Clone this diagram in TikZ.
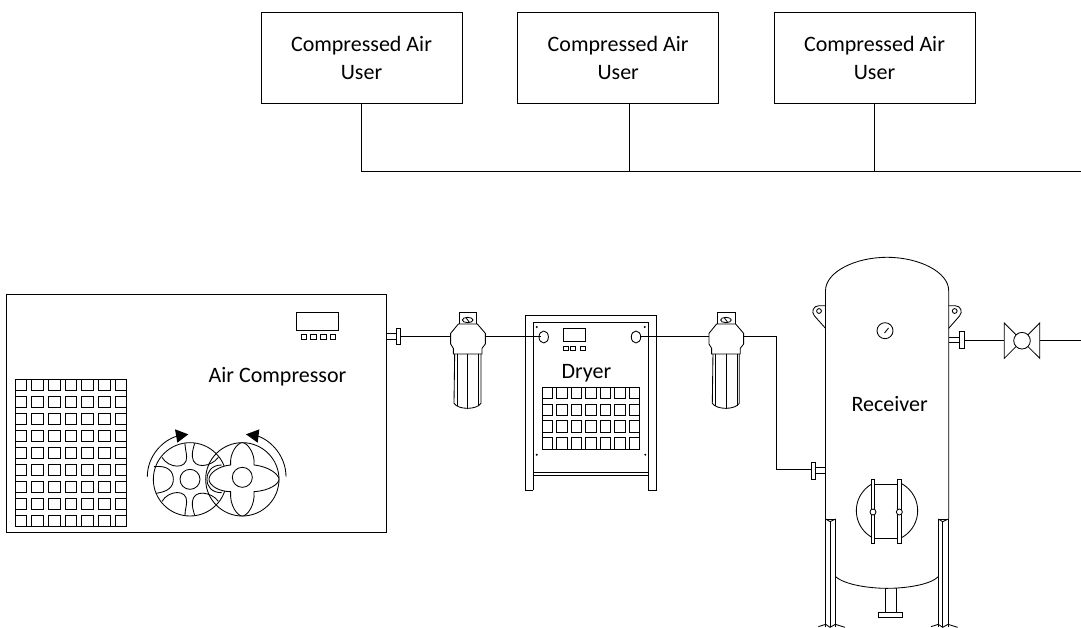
\documentclass[tikz,border=0pt]{standalone}
\usepackage{fontspec}
\setmainfont{Carlito}
\tikzset{
  ln/.style={line width=0.85pt,black},
  lbl/.style={inner sep=0pt,font=\fontsize{22}{28}\selectfont,align=center},
  userbox/.style={ln,draw,fill=white,minimum width=201pt,minimum height=90.5pt,inner sep=0pt,font=\fontsize{22}{28}\selectfont,align=center},
  zoomed/.style={x=0.33333pt,y=-0.33333pt}
}
\newcommand{\cellgrid}[8]{% x0,y0,cols,rows,pitchx,pitchy,w,h
  \draw[ln] (#1,#2) rectangle ({#1+(#3-1)*#5+#7},{#2+(#4-1)*#6+#8});
  \foreach \i in {1,...,#3}{\foreach \j in {1,...,#4}{
    \draw[ln] ({#1+(\i-1)*#5},{#2+(\j-1)*#6}) rectangle ++(#7,#8);}}
}
\newcommand{\filterunit}[2]{%
 \begin{scope}[zoomed,xshift=#1pt,yshift=-#2pt]
  \draw[ln,fill=white] (237,36) rectangle (290,72);
  \draw[ln] (263,60) ellipse (16 and 8);
  \draw[ln] (258,53) -- (268,67);
  \draw[ln,fill=white] (235,72) -- (292,72) -- (316,100) -- (316,132) -- (306,145) -- (306,162) -- (220,162) -- (220,145) -- (212,132) -- (212,100) -- cycle;
  \draw[ln] (224,162) -- (222,310) .. controls (235,330) and (290,330) .. (303,310) -- (303,162);
  \draw[ln] (231,162) -- (231,318) (263,162) -- (263,326) (296,162) -- (296,318);
 \end{scope}}
\begin{document}
\begin{tikzpicture}[x=1pt,y=-1pt]
\useasboundingbox (0,0) rectangle (1081,628);
% users
\node[userbox] (u1) at (361.5,58) {Compressed Air\\User};
\node[userbox] (u2) at (618.2,58) {Compressed Air\\User};
\node[userbox] (u3) at (874.5,58) {Compressed Air\\User};
\coordinate (b1) at (361.7,171.7);
\coordinate (b2) at (629.3,171.7);
\coordinate (b3) at (874.7,171.7);
\coordinate (bend) at (1081,171.7);
\draw[ln] (b1 |- u1.south) -- (b1) -- (bend);
\draw[ln] (b2 |- u2.south) -- (b2);
\draw[ln] (b3 |- u3.south) -- (b3);

% compressor
\draw[ln] (6.7,294) rectangle (386.7,532.5);
\node[lbl,anchor=base] (aclabel) at (277.5,382.5) {Air Compressor};
\draw[ln] (296.7,312.3) rectangle (338.7,330);
\foreach \x in {301,310.7,320.5,330.2} \draw[ln] (\x,334) rectangle ++(5.6,5.3);
\cellgrid{15}{379}{7}{9}{16.7}{17}{11.7}{11}
% rotors
\begin{scope}[zoomed,xshift=140pt,yshift=-420pt]
 \draw[ln] (150,178) circle (110);
 \draw[ln] (307,178) circle (110);
 \draw[ln] (150,178) circle (30);
 \draw[ln] (66,112) .. controls (85,145) and (142,150) .. (140,110) .. controls (139,95) and (135,85) .. (135,70);
 \draw[ln] (164,70) .. controls (160,85) and (156,95) .. (157,110) .. controls (160,150) and (215,140) .. (235,112);
 \draw[ln] (42,140) .. controls (85,135) and (100,155) .. (100,178) .. controls (100,200) and (85,215) .. (48,220);
 \draw[ln] (66,244) .. controls (85,211) and (142,206) .. (140,246) .. controls (139,261) and (135,271) .. (135,286);
 \draw[ln] (164,286) .. controls (160,271) and (156,261) .. (157,246) .. controls (160,206) and (215,216) .. (235,244);
 \draw[ln] (245,135) .. controls (215,135) and (201,155) .. (201,178) .. controls (201,200) and (215,218) .. (245,218);
 \draw[ln,fill=white] (272,135) .. controls (268,100) and (292,68) .. (307,68) .. controls (322,68) and (346,100) .. (342,135)
   .. controls (390,140) and (417,165) .. (417,178) .. controls (417,191) and (390,212) .. (342,215)
   .. controls (346,255) and (322,288) .. (307,288) .. controls (292,288) and (268,255) .. (272,215)
   .. controls (235,215) and (207,195) .. (207,178) .. controls (207,160) and (235,138) .. (272,135) -- cycle;
 \draw[ln] (307,172) circle (30);
 \draw[ln] (22,170) .. controls (22,110) and (65,62) .. (112,48);
 \fill[black] (105,28) -- (145,43) -- (112,68) -- cycle;
 \draw[ln] (438,170) .. controls (438,110) and (395,62) .. (353,48);
 \fill[black] (358,28) -- (318,43) -- (353,68) -- cycle;
\end{scope}

% compressor outlet flange
\coordinate (acout) at (400.5,336.7);
\draw[ln] (386.7,333.5) -- (396,333.5) (386.7,339.5) -- (396,339.5);
\draw[ln,fill=white] (396,328.3) rectangle (400.5,344);

% filters
\filterunit{380}{300}
\filterunit{638.3}{300}
\coordinate (f1in) at (450.7,336.7);
\coordinate (f1out) at (485.3,336.7);
\coordinate (f2in) at (709,336.7);
\coordinate (f2out) at (743.3,336.7);
\draw[ln] (acout) -- (f1in);

% dryer
\draw[ln] (533.3,490) -- (525.7,490) -- (525.7,315.3) -- (656,315.3) -- (656,490) -- (648.3,490);
\draw[ln] (533.3,490) -- (533.3,322.7) -- (648.3,322.7) -- (648.3,490);
\draw[ln] (533.3,472.7) -- (648.3,472.7) (533.3,475.2) -- (648.3,475.2);
\foreach \x/\y in {536.7/327,644.7/327,536.7/454.7,645.3/454.7} \fill[black] (\x,\y) circle (1.1);
\draw[ln] (543.7,337) ellipse (4.7 and 6);
\draw[ln] (636,337) ellipse (4.7 and 6);
\coordinate (din) at (541,336.7);
\coordinate (dout) at (640.7,336.7);
\draw[ln] (f1out) -- (din);
\draw[ln] (dout) -- (f2in);
\draw[ln] (563,328) rectangle (585,341.3);
\foreach \x in {563.3,570.8,580} \draw[ln] (\x,346) rectangle ++(5,4.7);
\node[lbl,anchor=base] (drylabel) at (586.5,378.7) {Dryer};
\cellgrid{542.3}{387.3}{7}{4}{14.5}{16.8}{10.3}{11.5}

% receiver
\draw[ln] (825.5,519) -- (825.5,290.7) .. controls (825.5,272) and (855,257.3) .. (887,257.3) .. controls (919,257.3) and (948.7,272) .. (948.7,290.7) -- (948.7,519);
\node[lbl,anchor=base] (reclabel) at (889.7,411.7) {Receiver};
% lugs
\draw[ln] (825.5,305.7) -- (819,305.7) .. controls (813,305.7) and (811,312) .. (814.5,316) -- (825.5,328.3);
\draw[ln] (819,311) circle (2.4);
\draw[ln] (948.7,305.7) -- (955,305.7) .. controls (961,305.7) and (963,312) .. (959.5,316) -- (948.7,328.3);
\draw[ln] (954.7,311) circle (2.4);
% gauge
\draw[ln] (885,330.7) circle (8);
\draw[ln] (884.5,333) -- (888.5,328);
% inlet flange
\coordinate (recin) at (811.3,469.3);
\coordinate (pbend) at (776.3,469.3);
\coordinate (pcor) at (776.3,336.7);
\draw[ln] (f2out) -- (pcor) -- (pbend) -- (recin);
\draw[ln] (816,467.7) -- (825.5,467.7) (816,473.3) -- (825.5,473.3);
\draw[ln,fill=white] (811.3,462.3) rectangle (815.8,479.7);
% outlet flange
\draw[ln] (948.7,337) -- (959.3,337) (948.7,342.7) -- (959.3,342.7);
\draw[ln,fill=white] (959.3,331.3) rectangle (964,348.3);
\coordinate (recout) at (964,340.3);
% valve
\coordinate (vin) at (1004.3,340.3);
\coordinate (vout) at (1039.7,340.3);
\coordinate (pend) at (1081,340.3);
\draw[ln] (recout) -- (vin);
\draw[ln] (vout) -- (pend);
\draw[ln] (1004.3,323) -- (1004.3,358.3) -- (1039.7,323) -- (1039.7,358.3) -- cycle;
\draw[ln,fill=white] (1022,340.7) circle (8.3);
% manway + legs
\begin{scope}[zoomed,xshift=790pt,yshift=-420pt]
 \draw[ln] (291,272) circle (92);
 \fill[white] (254,175) rectangle (323,372);
 \draw[ln] (249,192) -- (328,192) (249,355) -- (328,355);
 \draw[ln,fill=white] (244,178) rectangle (254,370);
 \draw[ln,fill=white] (323,178) rectangle (333,370);
 \draw[ln,fill=white] (249,276) circle (9);
 \draw[ln,fill=white] (328,276) circle (9);
 % head
 \draw[ln] (137,470) .. controls (165,495) and (240,505) .. (291,505) .. controls (345,505) and (420,495) .. (445,470);
 \draw[ln] (285,505) -- (285,578) (320,505) -- (320,578);
 \draw[ln] (265,578) rectangle (338,592);
 % legs
 \foreach \dx in {0,338}{
  \draw[ln] (107+\dx,297) -- (137+\dx,297);
  \draw[ln] (107+\dx,297) -- (120+\dx,305) -- (137+\dx,297);
  \draw[ln] (107+\dx,297) -- (107+\dx,620);
  \draw[ln] (120+\dx,305) -- (120+\dx,620);
  \draw[ln] (136+\dx,297) -- (136+\dx,620);
  \draw[ln] (85+\dx,620) -- (107+\dx,613) -- (120+\dx,622) -- (136+\dx,613) -- (165+\dx,622);
 }
\end{scope}
\end{tikzpicture}
\end{document}
